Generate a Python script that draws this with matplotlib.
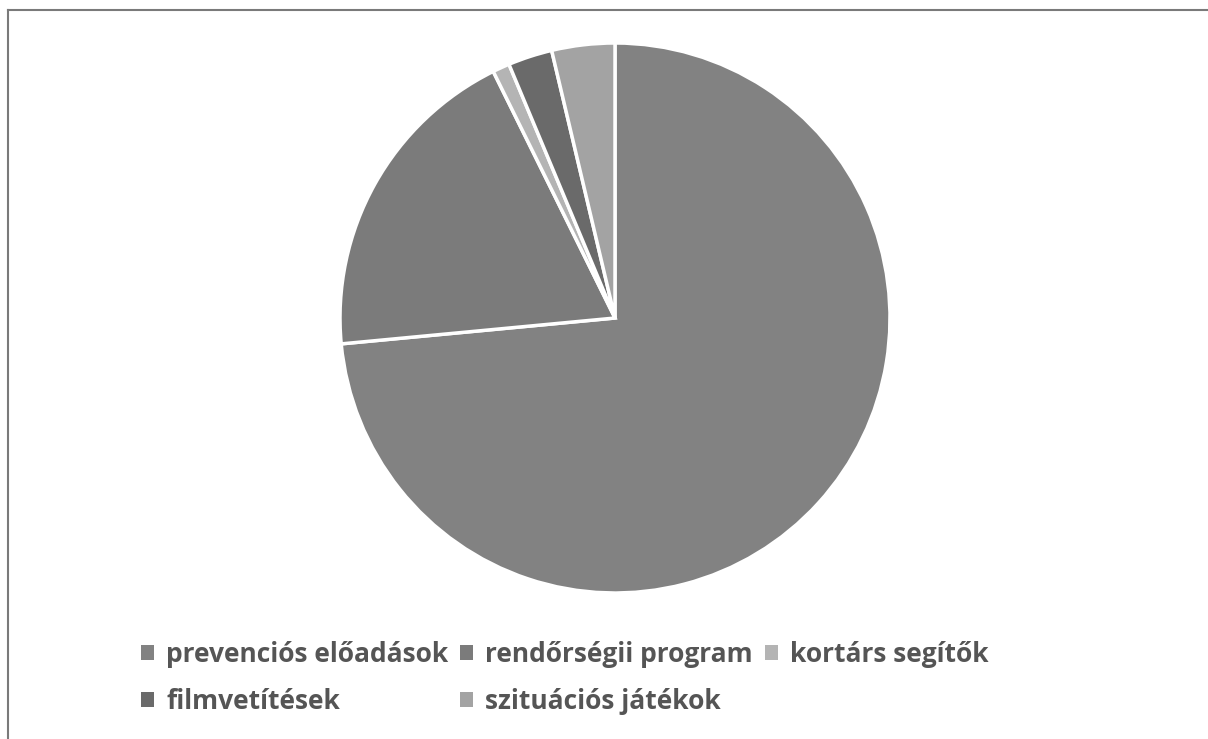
import matplotlib.pyplot as plt
from matplotlib.lines import Line2D
from matplotlib.patches import Patch

# slice shares (percent), clockwise from 12 o'clock
labels = ['prevenciós előadások', 'rendőrségii program', 'kortárs segítők',
          'filmvetítések', 'szituációs játékok']
values = [73.5, 19.2, 1.0, 2.6, 3.7]
colors = ['#828282', '#7b7b7b', '#b4b4b4', '#6a6a6a', '#a3a3a3']

W, H = 1208, 739
fig = plt.figure(figsize=(W / 100, H / 100), dpi=100)
fig.patch.set_facecolor('white')

# chart frame (only top and left are inside the scan)
fig.add_artist(Line2D([8 / W, 8 / W], [0, 1 - 10 / H], transform=fig.transFigure,
                      color='#7a7a7a', lw=1.5))
fig.add_artist(Line2D([8 / W, 1], [1 - 10 / H, 1 - 10 / H], transform=fig.transFigure,
                      color='#7a7a7a', lw=1.5))

cx, cy, r = 615, 318, 275
ax = fig.add_axes([(cx - r) / W, (H - cy - r) / H, 2 * r / W, 2 * r / H])
ax.pie(values, colors=colors, startangle=90, counterclock=False,
       wedgeprops=dict(edgecolor='white', linewidth=2.5))
ax.set_xlim(-1, 1)
ax.set_ylim(-1, 1)
ax.axis('off')

# legend: column-wise order so rows read like the original
order = [0, 3, 1, 4, 2]
handles = [Patch(facecolor=colors[i], edgecolor='none') for i in order]
leg = fig.legend(handles, [labels[i] for i in order], ncol=3,
                 loc='upper left', bbox_to_anchor=(141 / W, 1 - 641 / H),
                 frameon=False, prop=dict(family='Open Sans', weight='bold', size=19),
                 handlelength=0.5, handleheight=0.5, handletextpad=0.45,
                 columnspacing=0.45, labelspacing=0.75, borderpad=0, borderaxespad=0)
for t in leg.get_texts():
    t.set_color('#555555')

fig.savefig('out.png', dpi=100)
